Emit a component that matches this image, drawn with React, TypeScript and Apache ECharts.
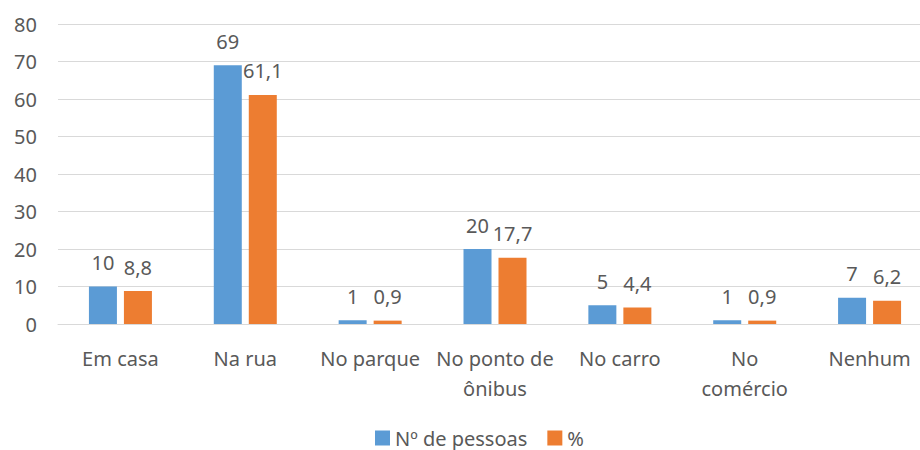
import React, { useEffect, useRef } from "react";
import * as echarts from "echarts";

const categories = [
  "Em casa",
  "Na rua",
  "No parque",
  "No ponto de\nônibus",
  "No carro",
  "No\ncomércio",
  "Nenhum",
];
const pessoas = [10, 69, 1, 20, 5, 1, 7];
const percent = [8.8, 61.1, 0.9, 17.7, 4.4, 0.9, 6.2];
const yTicks = { min: 0, max: 80, interval: 10 };

const FONT = "Noto Sans";
const TEXT = "#595959";

export default function App() {
  const ref = useRef<HTMLDivElement>(null);
  useEffect(() => {
    document.body.style.margin = "0";
    const chart = echarts.init(ref.current!, null, { renderer: "svg" });
    const fmt = (p: any) => String(p.value).replace(".", ",");
    const labelStyle = {
      show: true,
      position: "top",
      distance: 14,
      fontFamily: FONT,
      fontSize: 20,
      color: TEXT,
      formatter: fmt,
    };
    chart.setOption({
      animation: false,
      textStyle: { fontFamily: FONT },
      grid: { left: 58, top: 24, width: 874, height: 300 },
      legend: {
        left: 375,
        top: 428,
        padding: 0,
        icon: "rect",
        itemWidth: 15,
        itemHeight: 15,
        itemGap: 20,
        textStyle: {
          fontFamily: FONT,
          fontSize: 20,
          lineHeight: 20,
          color: TEXT,
        },
        data: ["Nº de pessoas", "%"],
      },
      xAxis: {
        type: "category",
        data: categories,
        axisLine: { lineStyle: { color: "#D9D9D9", width: 1 } },
        axisTick: { show: false },
        axisLabel: {
          interval: 0,
          margin: 19,
          fontFamily: FONT,
          fontSize: 20,
          lineHeight: 30,
          color: TEXT,
        },
      },
      yAxis: {
        type: "value",
        min: yTicks.min,
        max: yTicks.max,
        interval: yTicks.interval,
        axisLine: { show: false },
        axisTick: { show: false },
        splitLine: { lineStyle: { color: "#D9D9D9", width: 1 } },
        axisLabel: { margin: 21, fontFamily: FONT, fontSize: 20, color: TEXT },
      },
      series: [
        {
          name: "Nº de pessoas",
          type: "bar",
          data: pessoas,
          barWidth: 28,
          barGap: "25%",
          itemStyle: { color: "#5B9BD5" },
          label: labelStyle,
        },
        {
          name: "%",
          type: "bar",
          data: percent,
          barWidth: 28,
          barGap: "25%",
          itemStyle: { color: "#ED7D31" },
          label: labelStyle,
        },
      ],
    });
    return () => chart.dispose();
  }, []);
  return (
    <div style={{ width: 920, height: 450, overflow: "hidden" }}>
      <div ref={ref} style={{ width: 940, height: 450 }} />
    </div>
  );
}
